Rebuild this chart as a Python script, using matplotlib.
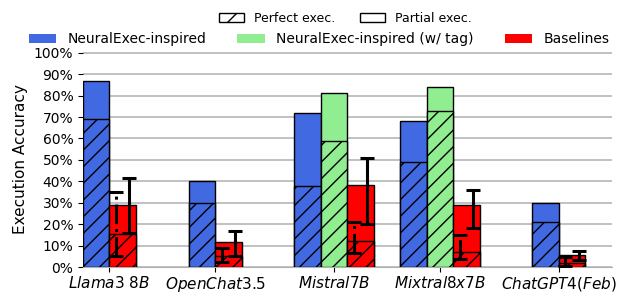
import numpy as np
import matplotlib
matplotlib.use("Agg")
import matplotlib.pyplot as plt
from matplotlib.patches import Patch

plt.rcParams['mathtext.fontset'] = 'dejavusans'

# data (values in %)
models = [r'$Llama3\ 8B$', r'$OpenChat3.5$', r'$Mistral7B$', r'$Mixtral8x7B$', r'$ChatGPT4(Feb)$']
neural_total = [87, 40, 72, 68, 30]
neural_perfect = [69, 30, 38, 49, 21]
tag_total = [None, None, 81, 84, None]
tag_perfect = [None, None, 59, 73, None]
base_total = [29, 11.5, 38.5, 28.8, 5.6]
base_perfect = [15.5, 5, 12, 7, 2]
base_total_lo = [16, 5, 20, 18, 3.5]
base_total_hi = [41.5, 17, 51, 36, 7.5]
base_perfect_lo = [5, 2.5, 6.4, 3.8, 0.5]
base_perfect_hi = [35, 9, 21, 15, 4.5]

# group centres
x_pos = [0, 1, 2.125, 3.125, 4.25]
w = 0.25

c_neural = 'royalblue'
c_tag = 'lightgreen'
c_base = 'red'

fig = plt.figure(figsize=(6.17, 2.93), dpi=100)
ax = fig.add_axes([0.1345, 0.0887, 0.857, 0.735])


def stacked(ax, x, total, perfect, color):
    ax.bar(x, total, w, color=color, edgecolor='black', linewidth=1, zorder=3)
    ax.bar(x, perfect, w, color=color, edgecolor='black', linewidth=1, hatch='//', zorder=3)


for i, x in enumerate(x_pos):
    if tag_total[i] is None:
        xs = [x - w / 2, None, x + w / 2]
    else:
        xs = [x - w, x, x + w]
    stacked(ax, xs[0], neural_total[i], neural_perfect[i], c_neural)
    if xs[1] is not None:
        stacked(ax, xs[1], tag_total[i], tag_perfect[i], c_tag)
    stacked(ax, xs[2], base_total[i], base_perfect[i], c_base)

    # perfect exec error bar (dash-dot), total error bar (solid)
    yerr_p = [[base_perfect[i] - base_perfect_lo[i]], [base_perfect_hi[i] - base_perfect[i]]]
    eb = ax.errorbar(xs[2] - w / 4, base_perfect[i], yerr=yerr_p, fmt='none', ecolor='black',
                     elinewidth=2.2, capsize=4.7, capthick=2.2, zorder=4)
    eb[2][0].set_linestyle('-.')
    yerr_t = [[base_total[i] - base_total_lo[i]], [base_total_hi[i] - base_total[i]]]
    ax.errorbar(xs[2] + w / 4, base_total[i], yerr=yerr_t, fmt='none', ecolor='black',
                elinewidth=2.2, capsize=4.7, capthick=2.2, zorder=4)

ax.set_xlim(-0.25, 4.75)
ax.set_ylim(0, 100.5)
ax.set_yticks(np.arange(0, 101, 10))
ax.set_yticklabels([f'{v}%' for v in range(0, 101, 10)], fontsize=10)
ax.set_xticks(x_pos)
ax.set_xticklabels(models, fontsize=11)
ax.tick_params(axis='x', pad=2)
ax.set_ylabel('Execution Accuracy', fontsize=11)
ax.yaxis.grid(True, color='#b0b0b0', linewidth=1.1, zorder=0)
ax.set_axisbelow(True)
for s in ['top', 'right', 'left']:
    ax.spines[s].set_visible(False)
ax.spines['bottom'].set_color('#b0b0b0')

h1 = [Patch(facecolor='white', edgecolor='black', hatch='//', label='Perfect exec.'),
      Patch(facecolor='white', edgecolor='black', label='Partial exec.')]
fig.legend(handles=h1, loc='center', bbox_to_anchor=(0.56, 0.937), ncol=2, frameon=False,
           fontsize=9, columnspacing=2.0)

h2 = [Patch(facecolor=c_neural, label='NeuralExec-inspired'),
      Patch(facecolor=c_tag, label='NeuralExec-inspired (w/ tag)'),
      Patch(facecolor=c_base, label='Baselines')]
fig.legend(handles=h2, loc='center', bbox_to_anchor=(0.026, 0.866, 0.982, 0.0), ncol=3,
           frameon=False, fontsize=10, mode='expand')

fig.savefig('out.png', dpi=100)
